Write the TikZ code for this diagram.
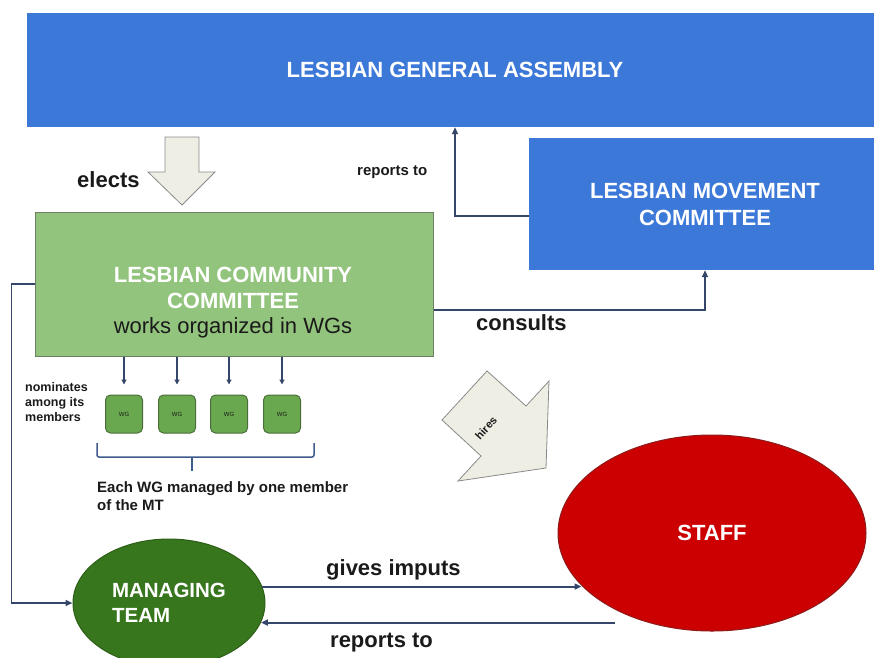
\documentclass[tikz,border=0pt]{standalone}
\usepackage{fontspec}
\setmainfont{Liberation Sans}
\usetikzlibrary{arrows.meta,shapes.geometric}

\definecolor{lgablue}{HTML}{3C78D8}
\definecolor{lccgreen}{HTML}{93C47D}
\definecolor{lccedge}{HTML}{6B7F64}
\definecolor{wggreen}{HTML}{6AA84F}
\definecolor{wgedge}{HTML}{4A6E3A}
\definecolor{mtgreen}{HTML}{38761D}
\definecolor{staffred}{HTML}{CC0000}
\definecolor{staffedge}{HTML}{8E1B1B}
\definecolor{arrowfill}{HTML}{EEEEE4}
\definecolor{arrowedge}{HTML}{8A8A8A}
\definecolor{linecol}{HTML}{34476A}
\definecolor{bracecol}{HTML}{3D5B8C}
\definecolor{darktext}{HTML}{1A1A1A}

\begin{document}
\begin{tikzpicture}[x=1pt,y=-1pt,
    conn/.style={draw=linecol, line width=1.9pt, -{Triangle[length=7pt,width=6pt]}},
    wgconn/.style={draw=linecol, line width=1.2pt, -{Triangle[length=5pt,width=5pt]}},
    bluebox/.style={rectangle, fill=lgablue, text=white, align=center,
      font=\bfseries\fontsize{22}{27}\selectfont},
    blockarrow/.style={fill=arrowfill, draw=arrowedge, line width=0.8pt},
    wgbox/.style={rectangle, rounded corners=5pt, fill=wggreen, draw=wgedge, line width=1pt,
      minimum width=37, minimum height=38, font=\fontsize{6}{7}\selectfont, text=darktext},
    lbl/.style={anchor=base west, inner sep=0, text=darktext,
      font=\bfseries\fontsize{22}{26}\selectfont}
  ]
  % Frame
  \useasboundingbox (0,0) rectangle (874,657);
  \clip (0,0) rectangle (874,657);

  % Assembly and movement committee
  \node[bluebox, minimum width=856, minimum height=114] (lga) at (455,70) {LESBIAN GENERAL ASSEMBLY};
  \node[bluebox, minimum width=352, minimum height=132] (lmc) at (705,204) {LESBIAN MOVEMENT\\COMMITTEE};

  % Community committee
  \node[rectangle, fill=lccgreen, draw=lccedge, line width=1pt,
    minimum width=398, minimum height=144] (lcc) at (234,284) {};
  \node[anchor=north, inner sep=0, align=center, font=\fontsize{22}{25.5}\selectfont] (lcctext) at (233,267)
    {{\color{white}\bfseries LESBIAN COMMUNITY}\\{\color{white}\bfseries COMMITTEE}\\{\color{darktext}works organized in WGs}};

  % Working groups
  \foreach \i/\x in {1/124,2/177,3/229,4/282}
    \node[wgbox] (wg\i) at (\x,414) {WG};
  \foreach \i in {1,...,4}
    \draw[wgconn] (lcc.south -| wg\i.north) -- ([yshift=10pt]wg\i.north);

  % Bracket under the WGs
  \draw[bracecol, line width=1.5pt, rounded corners=2pt] (97,443) |- (314,457) -- (314,443);
  \draw[bracecol, line width=1.5pt] (192,457) -- (192,471);

  % Block arrows
  \draw[blockarrow] (165,137) -- (199,137) -- (199,172) -- (215,172) -- (182,205)
    -- (148,172) -- (165,172) -- cycle;
  \draw[blockarrow] (487,371) -- (526,406) -- (549,381) -- (546,468) -- (458,481)
    -- (481,456) -- (442,420) -- cycle;
  \node[rotate=48, inner sep=0, text=darktext, font=\bfseries\fontsize{11}{13}\selectfont] (hires) at (486,428) {hires};

  % Staff and managing team
  \node[ellipse, fill=staffred, draw=staffedge, line width=1pt, inner sep=0,
    minimum width=308, minimum height=196, text=white,
    font=\bfseries\fontsize{22}{26}\selectfont] (staff) at (712,533) {STAFF};
  \node[ellipse, fill=mtgreen, draw=mtgreen!80!black, line width=1pt, inner sep=0,
    minimum width=192, minimum height=128, text=white, align=left,
    font=\bfseries\fontsize{20.5}{25}\selectfont] (mt) at (169,603) {MANAGING\\TEAM};

  % Connectors
  \draw[conn] ([yshift=-12pt]lmc.west) -| (lga.south);
  \draw[conn] ([yshift=-26pt]lcc.east) -| (lmc.south);
  \draw[conn] (lcc.west) -- ++(-23,0) |- (mt.west);
  \draw[conn] (mt.10) -- (mt.10 -| staff.202);
  \coordinate (rstart) at (615,622);
  \draw[conn] (mt.-12 -| rstart) -- (mt.-12);

  % Labels
  \node[lbl] (elects) at (77,187) {elects};
  \node[lbl, font=\bfseries\fontsize{15}{18}\selectfont] (rep1) at (357,175) {reports to};
  \node[lbl] (consults) at (476,330) {consults};
  \node[lbl] (gives) at (326,575) {gives imputs};
  \node[lbl] (rep2) at (330,647) {reports to};
  \node[anchor=north west, inner sep=0, align=left, text=darktext,
    font=\bfseries\fontsize{12.5}{15}\selectfont] (nom) at (25,382) {nominates\\among its\\members};
  \node[anchor=north west, inner sep=0, align=left, text=darktext,
    font=\bfseries\fontsize{15}{18}\selectfont] (each) at (97,481) {Each WG managed by one member\\of the MT};
\end{tikzpicture}
\end{document}
